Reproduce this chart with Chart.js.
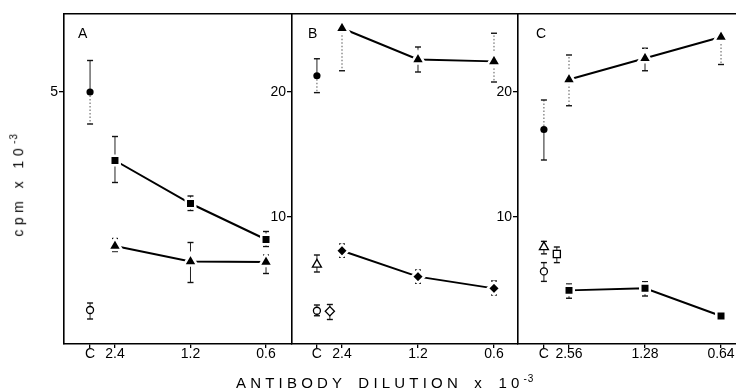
<!DOCTYPE html>
<html>
<head>
<meta charset="utf-8">
<script src="https://cdn.jsdelivr.net/npm/chart.js@4.4.1/dist/chart.umd.min.js"></script>
<style>
  body { margin: 0; width: 736px; height: 392px; overflow: hidden; background: #fff; position: relative; font-family: 'Liberation Sans', Arial, sans-serif; color: #000; }
  canvas { position: absolute; top: 0; }
  .lbl { position: absolute; font-size: 14px; line-height: 14px; }
  .xtitle { position: absolute; left: 236px; top: 371px; font-size: 15px; line-height: 15px; letter-spacing: 4.2px; word-spacing: 4px; white-space: nowrap; }
  .ytitle { position: absolute; left: -44px; top: 175px; width: 120px; text-align: center; font-size: 14px; line-height: 16px; letter-spacing: 4.5px; transform: rotate(-90deg); white-space: nowrap; }
  sup { font-size: 10px; letter-spacing: 1px; }
</style>
</head>
<body>
<canvas id="chartA" width="292" height="392" style="left:0"></canvas>
<canvas id="chartB" width="266" height="392" style="left:252px"></canvas>
<canvas id="chartC" width="258" height="392" style="left:478px"></canvas>
<div class="lbl" style="left:78px;top:26px">A</div>
<div class="lbl" style="left:308px;top:26px">B</div>
<div class="lbl" style="left:536px;top:26px">C</div>
<div class="ytitle">cpm x 10<sup>-3</sup></div>
<div class="xtitle">ANTIBODY  DILUTION  x 10<sup>-3</sup></div>
<script>
// x positions: control "C" sits a third of a step before the first dilution
var tickPos = [-0.33, 0, 1, 2];
var dilutionPos = [0, 1, 2];
var ctrlPos = -0.33;
var ctrlPos2 = -0.16;   // second control, just right of C
var tickLabelsAB = ['C', '2.4', '1.2', '0.6'];
var tickLabelsC = ['C', '2.56', '1.28', '0.64'];

// Panel A  (cpm x 10^-3)
var aSquares   = [3.63, 2.77, 2.05];
var aSquaresHi = [4.11, 2.92, 2.21];
var aSquaresLo = [3.19, 2.63, 1.91];
var aTriangles   = [1.92, 1.61, 1.60];
var aTrianglesHi = [2.07, 1.99, 1.74];
var aTrianglesLo = [1.81, 1.19, 1.37];
var aCtrlDot  = [5.00], aCtrlDotHi  = [5.63], aCtrlDotLo  = [4.36];
var aCtrlRing = [0.64], aCtrlRingHi = [0.78], aCtrlRingLo = [0.46];

// Panel B
var bTriangles   = [25.1, 22.6, 22.45];
var bTrianglesHi = [null, 23.6, 24.7];
var bTrianglesLo = [21.7, 21.6, 20.8];
var bDiamonds   = [7.30, 5.23, 4.29];
var bDiamondsHi = [7.84, 5.76, 4.88];
var bDiamondsLo = [6.78, 4.70, 3.76];
var bCtrlDot   = [21.3], bCtrlDotHi   = [22.66], bCtrlDotLo   = [19.95];
var bCtrlTri   = [6.2],  bCtrlTriHi   = [6.96],  bCtrlTriLo   = [5.6];
var bCtrlRing  = [2.5],  bCtrlRingHi  = [2.96],  bCtrlRingLo  = [2.1];
var bCtrlDiam  = [2.46], bCtrlDiamHi  = [3.0],   bCtrlDiamLo  = [1.8];

// Panel C
var cTriangles   = [21.0, 22.7, 24.4];
var cTrianglesHi = [22.96, 23.5, null];
var cTrianglesLo = [18.9, 21.7, 22.2];
var cSquares   = [4.13, 4.30, 2.08];
var cSquaresHi = [4.64, 4.82, null];
var cSquaresLo = [3.50, 3.68, null];
var cCtrlDot  = [17.0], cCtrlDotHi  = [19.36], cCtrlDotLo  = [14.56];
var cCtrlTri  = [7.6],  cCtrlTriHi  = [8.05],  cCtrlTriLo  = [7.05];
var cCtrlSq   = [7.04], cCtrlSqHi   = [7.6],   cCtrlSqLo   = [6.35];
var cCtrlRing = [5.65], cCtrlRingHi = [6.35],  cCtrlRingLo = [4.85];

var yTicksA = [5];
var yTicksBC = [10, 20];

var font = { family: "'Liberation Sans', Arial, sans-serif", size: 14 };

function pts(xs, ys) {
  return xs.map(function (x, i) { return { x: x, y: ys[i] }; });
}

// draws error bars under the markers, positions taken from the chart scales
var errorBars = {
  id: 'errorBars',
  beforeDatasetsDraw: function (chart) {
    var ctx = chart.ctx;
    var ys = chart.scales.y;
    chart.data.datasets.forEach(function (ds, i) {
      if (!ds.errHi) return;
      chart.getDatasetMeta(i).data.forEach(function (pt, j) {
        [[ds.errHi[j], ds.dotHi && ds.dotHi[j]], [ds.errLo[j], ds.dotLo && ds.dotLo[j]]].forEach(function (e) {
          if (e[0] == null) return;
          var yv = ys.getPixelForValue(e[0]);
          ctx.save();
          ctx.strokeStyle = e[1] ? '#555' : '#222';
          ctx.lineWidth = 1;
          ctx.setLineDash(e[1] ? [1.5, 2] : []);
          ctx.beginPath(); ctx.moveTo(pt.x, pt.y); ctx.lineTo(pt.x, yv); ctx.stroke();
          ctx.setLineDash([]);
          ctx.strokeStyle = '#111';
          ctx.lineWidth = 1.4;
          ctx.beginPath(); ctx.moveTo(pt.x - 3, yv); ctx.lineTo(pt.x + 3, yv); ctx.stroke();
          ctx.restore();
        });
      });
    });
  }
};

function joined(data, hi, lo, style, r, extra) {
  var ds = {
    data: data, errHi: hi, errLo: lo, showLine: true,
    borderColor: '#000', borderWidth: 2,
    pointStyle: style, pointRadius: r,
    pointBackgroundColor: '#000', pointBorderColor: '#fff', pointBorderWidth: 2.5
  };
  return Object.assign(ds, extra || {});
}

function single(data, hi, lo, style, r, filled, extra) {
  var ds = {
    data: data, errHi: hi, errLo: lo, showLine: false,
    pointStyle: style, pointRadius: r,
    pointBackgroundColor: filled ? '#000' : '#fff',
    pointBorderColor: '#000', pointBorderWidth: filled ? 0 : 1.3
  };
  return Object.assign(ds, extra || {});
}

function panel(id, datasets, xLabels, xMin, xMax, yMin, yMax, yTicks, yWidth) {
  return new Chart(document.getElementById(id), {
    type: 'scatter',
    data: { datasets: datasets },
    plugins: [errorBars],
    options: {
      responsive: false,
      animation: false,
      events: [],
      layout: { autoPadding: false, padding: { top: 14, left: 0, right: 0, bottom: 0 } },
      plugins: { legend: { display: false }, tooltip: { enabled: false } },
      scales: {
        x: {
          type: 'linear', position: 'bottom', min: xMin, max: xMax,
          afterBuildTicks: function (s) { s.ticks = tickPos.map(function (v) { return { value: v }; }); },
          afterFit: function (s) { s.height = 48; },
          ticks: { autoSkip: false, maxRotation: 0, color: '#000', font: font, padding: -2,
                   callback: function (v, i) { return xLabels[i]; } },
          grid: { display: true, drawOnChartArea: false, tickLength: 4, color: '#000', lineWidth: 1.3 },
          border: { display: true, color: '#000', width: 1.6 }
        },
        xt: {
          type: 'linear', position: 'top', min: xMin, max: xMax,
          afterFit: function (s) { s.height = 0; },
          ticks: { display: false },
          grid: { display: false },
          border: { display: true, color: '#000', width: 1.6 }
        },
        y: {
          type: 'linear', min: yMin, max: yMax,
          afterBuildTicks: function (s) { s.ticks = yTicks.map(function (v) { return { value: v }; }); },
          afterFit: function (s) { s.width = yWidth; },
          ticks: { color: '#000', font: font, padding: 1 },
          grid: { display: true, drawOnChartArea: false, tickLength: 5, color: '#000', lineWidth: 1.3 },
          border: { display: true, color: '#000', width: 1.6 }
        }
      }
    }
  });
}

panel('chartA', [
  joined(pts(dilutionPos, aSquares), aSquaresHi, aSquaresLo, 'rect', 6.7),
  joined(pts(dilutionPos, aTriangles), aTrianglesHi, aTrianglesLo, 'triangle', 8),
  single(pts([ctrlPos], aCtrlDot), aCtrlDotHi, aCtrlDotLo, 'circle', 3.6, true, { dotLo: [true] }),
  single(pts([ctrlPos], aCtrlRing), aCtrlRingHi, aCtrlRingLo, 'circle', 3.5, false)
], tickLabelsAB, -0.675, 2.344, -0.04, 6.56, yTicksA, 64);

panel('chartB', [
  joined(pts(dilutionPos, bTriangles), bTrianglesHi, bTrianglesLo, 'triangle', 8, { dotLo: [true, false, true], dotHi: [false, false, true] }),
  joined(pts(dilutionPos, bDiamonds), bDiamondsHi, bDiamondsLo, 'rectRot', 6.3),
  single(pts([ctrlPos], bCtrlDot), bCtrlDotHi, bCtrlDotLo, 'circle', 3.6, true, { dotLo: [true] }),
  single(pts([ctrlPos], bCtrlTri), bCtrlTriHi, bCtrlTriLo, 'triangle', 5.2, false),
  single(pts([ctrlPos], bCtrlRing), bCtrlRingHi, bCtrlRingLo, 'circle', 3.5, false),
  single(pts([ctrlPos2], bCtrlDiam), bCtrlDiamHi, bCtrlDiamLo, 'rectRot', 4.6, false)
], tickLabelsAB, -0.658, 2.316, -0.16, 26.24, yTicksBC, 40);

panel('chartC', [
  joined(pts(dilutionPos, cTriangles), cTrianglesHi, cTrianglesLo, 'triangle', 8, { dotLo: [true, false, true], dotHi: [true, false, false] }),
  joined(pts(dilutionPos, cSquares), cSquaresHi, cSquaresLo, 'rect', 6.7),
  single(pts([ctrlPos], cCtrlDot), cCtrlDotHi, cCtrlDotLo, 'circle', 3.6, true, { dotHi: [true] }),
  single(pts([ctrlPos], cCtrlTri), cCtrlTriHi, cCtrlTriLo, 'triangle', 5.2, false),
  single(pts([ctrlPos2], cCtrlSq), cCtrlSqHi, cCtrlSqLo, 'rect', 5, false),
  single(pts([ctrlPos], cCtrlRing), cCtrlRingHi, cCtrlRingLo, 'circle', 3.5, false)
], tickLabelsC, -0.671, 2.197, -0.16, 26.24, yTicksBC, 40);
</script>
</body>
</html>
